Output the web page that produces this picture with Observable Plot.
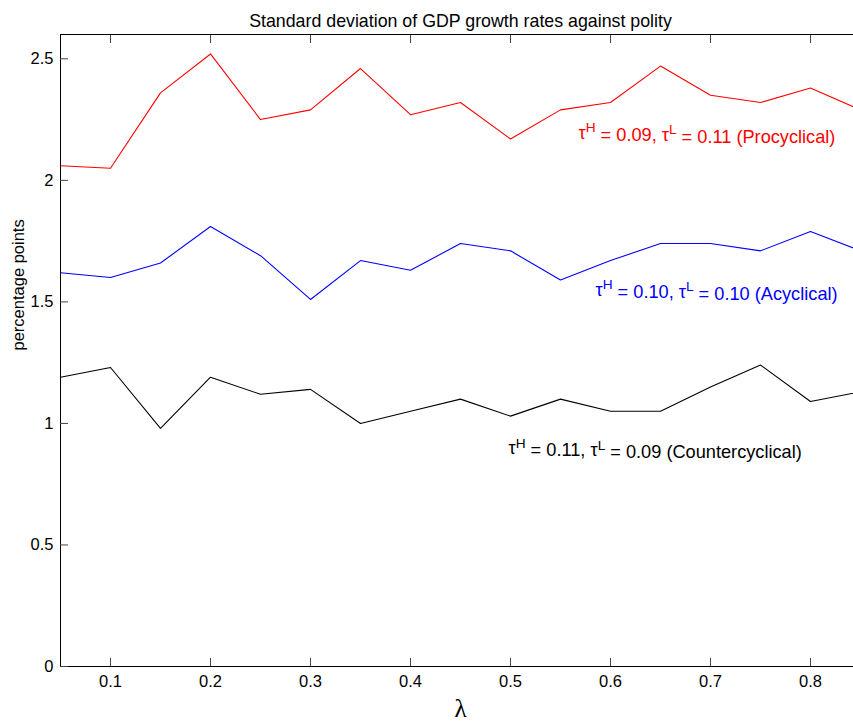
<!DOCTYPE html>
<html>
<head>
<meta charset="utf-8">
<script src="https://cdn.jsdelivr.net/npm/d3@7"></script>
<script src="https://cdn.jsdelivr.net/npm/@observablehq/plot@0.6"></script>
<style>
  html, body { margin: 0; padding: 0; background: #fff; overflow: hidden; }
  #chart svg { max-width: none !important; display: block; }
</style>
</head>
<body>
<div id="chart"></div>
<script>
const lambda = [0.05, 0.10, 0.15, 0.20, 0.25, 0.30, 0.35, 0.40, 0.45, 0.50, 0.55, 0.60, 0.65, 0.70, 0.75, 0.80, 0.85];
const procyclical    = [2.06, 2.05, 2.36, 2.52, 2.25, 2.29, 2.46, 2.27, 2.32, 2.17, 2.29, 2.32, 2.47, 2.35, 2.32, 2.38, 2.29];
const acyclical      = [1.62, 1.60, 1.66, 1.81, 1.69, 1.51, 1.67, 1.63, 1.74, 1.71, 1.59, 1.67, 1.74, 1.74, 1.71, 1.79, 1.71];
const countercyclical = [1.19, 1.23, 0.98, 1.19, 1.12, 1.14, 1.00, 1.05, 1.10, 1.03, 1.10, 1.05, 1.05, 1.15, 1.24, 1.09, 1.13];

const seriesNames  = ["Procyclical", "Acyclical", "Countercyclical"];
const seriesColors = ["#ff0000", "#0000ff", "#000000"];
const seriesLabels = [
  "τH = 0.09, τL = 0.11 (Procyclical)",
  "τH = 0.10, τL = 0.10 (Acyclical)",
  "τH = 0.11, τL = 0.09 (Countercyclical)"
];
// annotation anchor (left start, baseline) in data units
const labelX = [0.568, 0.585, 0.498];
const labelY = [2.172, 1.526, 0.875];

const xTicks = [0.1, 0.2, 0.3, 0.4, 0.5, 0.6, 0.7, 0.8];
const yTicks = [0, 0.5, 1, 1.5, 2, 2.5];
const yTickLabels = ["0", "0.5", "1", "1.5", "2", "2.5"];

const title = "Standard deviation of GDP growth rates against polity";
const yLabel = "percentage points";
const xLabel = "λ";

const allSeries = [procyclical, acyclical, countercyclical];
const rows = [];
allSeries.forEach((vals, s) => vals.forEach((v, i) => rows.push({lambda: lambda[i], value: v, series: seriesNames[s]})));
const labels = seriesLabels.map((t, i) => ({text: t, x: labelX[i], y: labelY[i], color: seriesColors[i]}));

const font = "'Liberation Sans', Arial, Helvetica, sans-serif";

const chart = Plot.plot({
  width: 860,
  height: 722,
  marginLeft: 60,
  marginRight: 0,
  marginTop: 34,
  marginBottom: 56,
  style: {fontFamily: font, fontSize: "16.5px", color: "#000", background: "#fff"},
  x: {domain: [0.05, 0.85]},
  y: {domain: [0, 2.6]},
  color: {domain: seriesNames, range: seriesColors},
  marks: [
    Plot.line(rows, {x: "lambda", y: "value", z: "series", stroke: "series", strokeWidth: 1.1}),
    Plot.frame({stroke: "#000", strokeWidth: 1}),
    Plot.axisX({anchor: "bottom", ticks: xTicks, tickSize: -8, tickPadding: 17, tickFormat: d => String(d), label: null, stroke: "#444", fontSize: 16.5}),
    Plot.axisX({anchor: "top", ticks: xTicks, tickSize: -8, tickFormat: () => "", label: null, stroke: "#444"}),
    Plot.axisY({anchor: "left", ticks: yTicks, tickSize: -8, tickPadding: 15, tickFormat: d => yTickLabels[yTicks.indexOf(d)], label: null, stroke: "#444", fontSize: 16.5}),
    Plot.axisY({anchor: "right", ticks: yTicks, tickSize: -8, tickFormat: () => "", label: null, stroke: "#444"}),
    Plot.text(labels, {x: "x", y: "y", text: "text", fill: "color", textAnchor: "start", lineAnchor: "bottom", fontSize: 18.2}),
    Plot.text([title], {frameAnchor: "top", dy: -20, fontSize: 17.8}),
    Plot.text([yLabel], {frameAnchor: "left", rotate: -90, dx: -42, fontSize: 16.5}),
    Plot.text([xLabel], {frameAnchor: "bottom", lineAnchor: "bottom", dy: 50, fontSize: 25, fontFamily: "'Liberation Serif', 'DejaVu Serif', serif"})
  ]
});

document.getElementById("chart").appendChild(chart);

// Render superscripts H and L after τ as real tspans
d3.select(chart).selectAll("text").each(function() {
  const t = this.textContent;
  if (!/τ[HL]/.test(t)) return;
  const sel = d3.select(this);
  sel.text(null);
  const parts = t.split(/τ([HL])/);
  for (let i = 0; i < parts.length; i++) {
    if (i % 2 === 0) {
      const sp = sel.append("tspan").text(parts[i] + (i < parts.length - 1 ? "τ" : ""));
      if (i > 0) sp.attr("dy", "0.45em");
    } else {
      sel.append("tspan").attr("dy", "-0.45em").attr("font-size", "0.75em").text(parts[i]);
    }
  }
});
</script>
</body>
</html>
